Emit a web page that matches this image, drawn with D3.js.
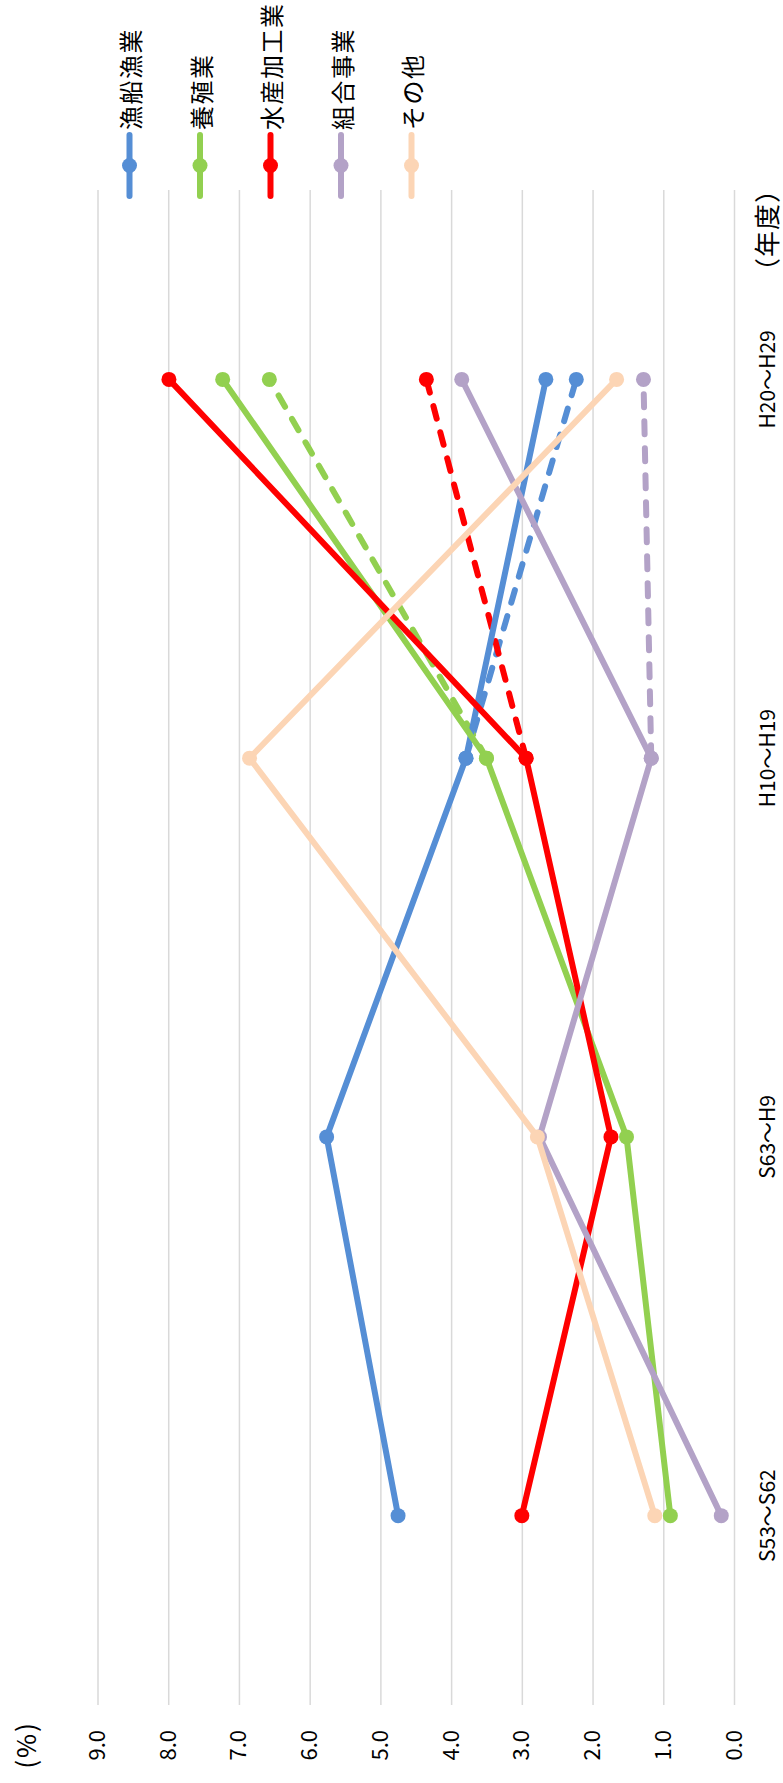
<!DOCTYPE html>
<html>
<head>
<meta charset="utf-8">
<script src="https://cdn.jsdelivr.net/npm/d3@7"></script>
<style>
  html, body { margin: 0; padding: 0; background: #fff; }
  svg { display: block; }
</style>
</head>
<body>
<svg id="chart" width="783" height="1783"></svg>
<script>
// Periods (年度) along the category axis
const categories = ["S53〜S62", "S63〜H9", "H10〜H19", "H20〜H29"];
const valueTicks = [0, 1, 2, 3, 4, 5, 6, 7, 8, 9];

// Series names and colours
const seriesNames = ["漁船漁業", "養殖業", "水産加工業", "組合事業", "その他"];
const seriesColors = ["#558ED5", "#92D050", "#FF0000", "#B3A2C7", "#FCD5B5"];

// Actual values (%), solid lines
const gyosenGyogyo = [4.75, 5.76, 3.79, 2.66];
const yoshokugyo   = [0.90, 1.52, 3.50, 7.23];
const suisanKakou  = [3.00, 1.74, 2.94, 7.99];
const kumiaiJigyo  = [0.18, 2.75, 1.17, 3.85];
const sonota       = [1.12, 2.78, 6.85, 1.66];

// Alternative values for the latest period, dashed lines
const gyosenGyogyoDash = [null, null, 3.79, 2.23];
const yoshokugyoDash   = [null, null, 3.50, 6.57];
const suisanKakouDash  = [null, null, 2.94, 4.35];
const kumiaiJigyoDash  = [null, null, 1.17, 1.28];

const solidSeries = [gyosenGyogyo, yoshokugyo, suisanKakou, kumiaiJigyo, sonota];
const dashSeries = [
  { values: gyosenGyogyoDash, color: 0 },
  { values: yoshokugyoDash, color: 1 },
  { values: suisanKakouDash, color: 2 },
  { values: kumiaiJigyoDash, color: 3 }
];

const W = 1783, H = 783;   // chart drawn landscape, then turned upright
const svg = d3.select("#chart");
const g = svg.append("g").attr("transform", `translate(0,${W}) rotate(-90)`);

const x = d3.scaleBand().domain(categories).range([78, 1593]).padding(0).align(0.5);
const xc = c => x(c) + x.bandwidth() / 2;
const y = d3.scaleLinear().domain([0, 9]).range([734, 97.5]);

const jp = "'Noto Sans CJK JP', 'Noto Sans', sans-serif";

// Horizontal gridlines
const grid = g.append("g").attr("transform", "translate(78,0)")
  .call(d3.axisLeft(y).tickValues(valueTicks).tickSize(-1515).tickFormat(""));
grid.select(".domain").remove();
grid.selectAll("line").attr("stroke", "#D9D9D9").attr("stroke-width", 1.5);

// Value axis labels
const yAxis = g.append("g").attr("transform", "translate(78,0)")
  .call(d3.axisLeft(y).tickValues(valueTicks).tickSize(0).tickPadding(25).tickFormat(d3.format(".1f")));
yAxis.select(".domain").remove();
yAxis.selectAll("text").attr("font-family", jp).attr("font-size", 22).attr("fill", "#000");

// Category axis labels
const xAxis = g.append("g").attr("transform", "translate(0,734)")
  .call(d3.axisBottom(x).tickSize(0).tickPadding(26));
xAxis.select(".domain").remove();
xAxis.selectAll("text").attr("font-family", jp).attr("font-size", 21).attr("fill", "#000");

// Axis unit labels
g.append("text").attr("x", 38).attr("y", 24)
  .attr("text-anchor", "middle").attr("dominant-baseline", "central")
  .attr("font-family", jp).attr("font-size", 26).attr("letter-spacing", 2)
  .text("(%)");
g.append("text").attr("x", 1553).attr("y", 765)
  .attr("text-anchor", "middle").attr("dominant-baseline", "central")
  .attr("font-family", jp).attr("font-size", 26).attr("letter-spacing", 1)
  .text("（年度）");

const line = d3.line()
  .defined(d => d != null)
  .x((d, i) => xc(categories[i]))
  .y(d => y(d));

// Dashed lines
dashSeries.forEach(s => {
  const col = seriesColors[s.color];
  g.append("path").datum(s.values)
    .attr("d", line).attr("fill", "none").attr("stroke", col)
    .attr("stroke-width", 6).attr("stroke-dasharray", "13 14")
    .attr("stroke-linecap", "round").attr("stroke-linejoin", "round");
  g.append("g").selectAll("circle")
    .data(s.values.map((v, i) => ({ v, i })).filter(d => d.v != null))
    .join("circle")
    .attr("cx", d => xc(categories[d.i])).attr("cy", d => y(d.v))
    .attr("r", 7.5).attr("fill", col);
});

// Solid lines
solidSeries.forEach((vals, k) => {
  const col = seriesColors[k];
  g.append("path").datum(vals)
    .attr("d", line).attr("fill", "none").attr("stroke", col)
    .attr("stroke-width", 6).attr("stroke-linejoin", "round");
  g.append("g").selectAll("circle")
    .data(vals.map((v, i) => ({ v, i })))
    .join("circle")
    .attr("cx", d => xc(categories[d.i])).attr("cy", d => y(d.v))
    .attr("r", 7.5).attr("fill", col);
});

// Legend
const legend = g.append("g");
seriesNames.forEach((name, i) => {
  const ly = 129.5 + i * 70.5;
  const col = seriesColors[i];
  legend.append("line").attr("x1", 1587).attr("x2", 1648).attr("y1", ly).attr("y2", ly)
    .attr("stroke", col).attr("stroke-width", 6).attr("stroke-linecap", "round");
  legend.append("circle").attr("cx", 1617.5).attr("cy", ly).attr("r", 7.5).attr("fill", col);
  legend.append("text").attr("x", 1653).attr("y", ly)
    .attr("dominant-baseline", "central")
    .attr("font-family", jp).attr("font-size", 24).attr("letter-spacing", 1.5)
    .text(name);
});
</script>
</body>
</html>
